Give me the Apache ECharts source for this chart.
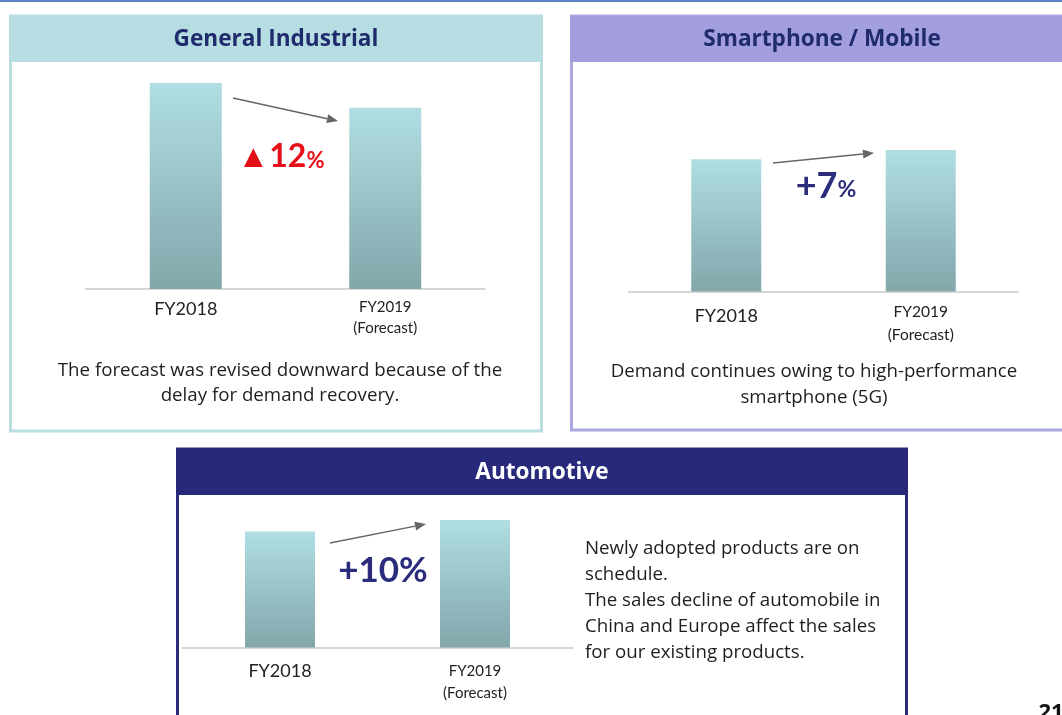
<!DOCTYPE html>
<html>
<head>
<meta charset="utf-8">
<script src="https://cdn.jsdelivr.net/npm/echarts@6/dist/echarts.min.js"></script>
<style>
  html, body { margin: 0; padding: 0; background: #fff; }
  #main { width: 1062px; height: 715px; }
</style>
</head>
<body>
<div id="main"></div>
<script>
// chart data
var categories = ['FY2018', 'FY2019\n(Forecast)'];
var industrialValues = [100, 88];
var mobileValues = [100, 107];
var autoValues = [100, 110];
var changeLabels = ['▲12', '+7', '+10'];

var FONT = 'Lato, "Open Sans", sans-serif';
var BODY = '"Open Sans", Lato, sans-serif';

var barColor = new echarts.graphic.LinearGradient(0, 0, 0, 1, [
    {offset: 0, color: '#b0dee2'},
    {offset: 1, color: '#82a7ab'}
]);

function makeXAxis(idx, bigSize, smallSize, margin, bigLh, smallLh){
    return {
        type: 'category',
        gridIndex: idx,
        data: categories,
        axisLine: {lineStyle: {color: '#d6d6d6', width: 2}},
        axisTick: {show: false},
        axisLabel: {
            margin: margin,
            interval: 0,
            formatter: function (val, i){
                if (i === 0) return '{a|' + val + '}';
                return val.split('\n').map(function (s){ return '{b|' + s + '}'; }).join('\n');
            },
            rich: {
                a: {fontFamily: FONT, fontSize: bigSize, color: '#222', lineHeight: bigLh},
                b: {fontFamily: FONT, fontSize: smallSize, color: '#222', lineHeight: smallLh}
            }
        }
    };
}

function makeYAxis(idx, values){
    return {
        type: 'value',
        gridIndex: idx,
        show: false,
        min: 0,
        max: Math.max.apply(null, values)
    };
}

function makeSeries(idx, values, width){
    return {
        type: 'bar',
        xAxisIndex: idx,
        yAxisIndex: idx,
        data: values,
        barWidth: width,
        itemStyle: {color: barColor},
        silent: true
    };
}

function arrow(x1, y1, x2, y2){
    var a = Math.atan2(y2 - y1, x2 - x1);
    var len = 11, w = 4.5;
    var bx = x2 - len * Math.cos(a), by = y2 - len * Math.sin(a);
    var px = -Math.sin(a) * w, py = Math.cos(a) * w;
    return [
        {type: 'line', shape: {x1: x1, y1: y1, x2: bx, y2: by},
         style: {stroke: '#666', lineWidth: 1.5}},
        {type: 'polygon', shape: {points: [[x2, y2], [bx + px, by + py], [bx - px, by - py]]},
         style: {fill: '#666'}}
    ];
}

function panel(x, y, w, h, headH, headColor, borderColor){
    return [
        {type: 'rect', shape: {x: x + 1.5, y: y, width: w - 3, height: h},
         style: {fill: '#fff', stroke: borderColor, lineWidth: 3}},
        {type: 'rect', shape: {x: x, y: y, width: w, height: headH},
         style: {fill: headColor}}
    ];
}

function text(x, y, str, opt){
    return {
        type: 'text', x: x, y: y,
        style: Object.assign({
            text: str,
            fontFamily: BODY,
            fontSize: 18.7,
            fill: '#1e1e1e',
            align: 'center',
            verticalAlign: 'middle'
        }, opt || {})
    };
}

var graphics = [];
graphics.push({type: 'rect', shape: {x: 0, y: 0, width: 1062, height: 2}, style: {fill: '#5a86c8'}});
graphics = graphics.concat(panel(9, 16, 534, 415, 46, '#b6dde1', '#b9dfe3'));
graphics = graphics.concat(panel(570, 16, 500, 414, 46, '#a39fdf', '#aaa7e1'));
graphics = graphics.concat(panel(176, 449, 732, 280, 46, '#28297a', '#2b2b7b'));

graphics.push(text(276, 40, 'General Industrial', {fontSize: 22.6, fontWeight: 'bold', fill: '#1f2b6c'}));
graphics.push(text(822, 40, 'Smartphone / Mobile', {fontSize: 22.6, fontWeight: 'bold', fill: '#1f2b6c'}));
graphics.push(text(542, 473, 'Automotive', {fontSize: 22.6, fontWeight: 'bold', fill: '#fff'}));

graphics.push(text(280, 383, 'The forecast was revised downward because of the\ndelay for demand recovery.',
    {lineHeight: 25}));
graphics.push(text(814, 385, 'Demand continues owing to high-performance\nsmartphone (5G)',
    {lineHeight: 26}));
graphics.push(text(585, 536, 'Newly adopted products are on\nschedule.\nThe sales decline of automobile in\nChina and Europe affect the sales\nfor our existing products.',
    {lineHeight: 26, align: 'left', verticalAlign: 'top'}));

graphics.push(text(281, 157, '{a|' + changeLabels[0] + '}{p|%}', {
    rich: {
        a: {fontFamily: FONT, fontSize: 32, fontWeight: 'bold', fill: '#e60f18'},
        p: {fontFamily: FONT, fontSize: 22, fontWeight: 'bold', fill: '#e60f18', padding: [7, 0, 0, 0]}
    }
}));
graphics.push(text(826, 186, '{a|' + changeLabels[1] + '}{p|%}', {
    rich: {
        a: {fontFamily: FONT, fontSize: 36, fontWeight: 'bold', fill: '#2b2d7c'},
        p: {fontFamily: FONT, fontSize: 23, fontWeight: 'bold', fill: '#2b2d7c', padding: [8, 0, 0, 0]}
    }
}));
graphics.push(text(383, 571, changeLabels[2] + '%', {fontFamily: FONT, fontSize: 35, fontWeight: 'bold', fill: '#2b2d7c'}));

graphics = graphics.concat(arrow(233, 98, 338, 121));
graphics = graphics.concat(arrow(773, 163, 874, 153));
graphics = graphics.concat(arrow(330, 543, 426, 524));

graphics.push(text(1051, 713, '21', {fontSize: 22, fontWeight: 'bold', fill: '#111'}));

var chart = echarts.init(document.getElementById('main'));
chart.setOption({
    animation: false,
    backgroundColor: '#fff',
    graphic: {elements: graphics},
    grid: [
        {left: 86, width: 399, top: 83, height: 206},
        {left: 629, width: 389, top: 150, height: 141.5},
        {left: 182.5, width: 390, top: 520, height: 127.5}
    ],
    xAxis: [
        makeXAxis(0, 18, 15, 8, 24, 21),
        makeXAxis(1, 18, 15.5, 9, 31, 23),
        makeXAxis(2, 18, 15, 13, 22, 22)
    ],
    yAxis: [
        makeYAxis(0, industrialValues),
        makeYAxis(1, mobileValues),
        makeYAxis(2, autoValues)
    ],
    series: [
        makeSeries(0, industrialValues, 72),
        makeSeries(1, mobileValues, 70),
        makeSeries(2, autoValues, 70)
    ]
});
</script>
</body>
</html>
